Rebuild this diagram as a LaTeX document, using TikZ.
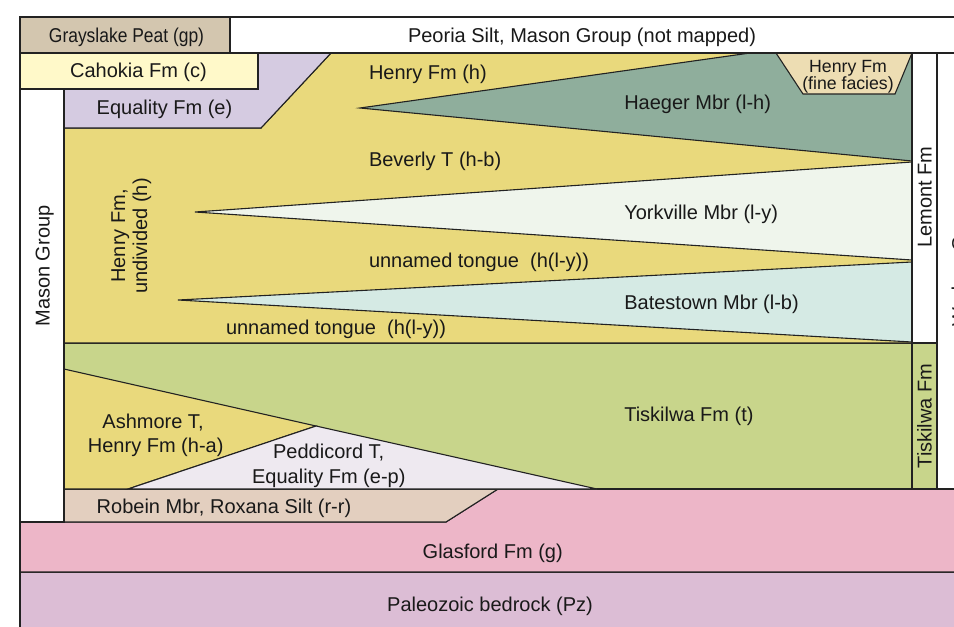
\documentclass[tikz,border=0pt]{standalone}
\usepackage{fontspec}
\setmainfont{Liberation Sans}
\newfontfamily\condfont[FakeStretch=0.872]{Liberation Sans}
\newcommand{\lblsize}{\fontsize{20}{24}\selectfont}
\newcommand{\smallsize}{\fontsize{17.7}{17}\selectfont}
\definecolor{linec}{HTML}{222222}
\definecolor{cGp}{HTML}{D3C6AF}
\definecolor{cCah}{HTML}{FFF9C9}
\definecolor{cEq}{HTML}{D5CBE1}
\definecolor{cHen}{HTML}{E9D97C}
\definecolor{cHae}{HTML}{8FAE9C}
\definecolor{cFine}{HTML}{EDDDB3}
\definecolor{cYork}{HTML}{EFF5EC}
\definecolor{cBat}{HTML}{D5EAE4}
\definecolor{cTis}{HTML}{C8D58B}
\definecolor{cPed}{HTML}{EEE9F0}
\definecolor{cRob}{HTML}{E3CFBF}
\definecolor{cGla}{HTML}{EDB6C8}
\definecolor{cPz}{HTML}{DCBDD5}
\begin{document}
\begin{tikzpicture}[x=1pt,y=-1pt,
  layer/.style={draw=linec, line width=1.1pt, line join=miter},
  lbl/.style={inner sep=0pt, outer sep=0pt, font=\lblsize, text=black!90},
  vlbl/.style={lbl, rotate=90, anchor=base}]
\useasboundingbox (0,0) rectangle (954,627);
\clip (0,0) rectangle (954,627);
\fill[white] (0,0) rectangle (954,627);
% bottom layers
\filldraw[layer, fill=cPz] (20,572) rectangle (980,660);
\filldraw[layer, fill=cGla] (20,522) -- (446,522) -- (498,489) -- (980,489) -- (980,572) -- (20,572) -- cycle;
\filldraw[layer, fill=cRob] (64,489) -- (498,489) -- (446,522) -- (64,522) -- cycle;
% Tiskilwa
\filldraw[layer, fill=cTis] (64,343) rectangle (912,489);
\filldraw[layer, fill=cHen] (64,369) -- (316,426) -- (128,489) -- (64,489) -- cycle;
\filldraw[layer, fill=cPed] (128,489) -- (316,426) -- (597,489) -- cycle;
% Henry
\filldraw[layer, fill=cHen] (64,128) -- (261,128) -- (331,53) -- (912,53) -- (912,343) -- (64,343) -- cycle;
\filldraw[layer, fill=cHae] (360,108) -- (750,53) -- (912,53) -- (912,161) -- cycle;
\filldraw[layer, fill=cFine] (776,53) -- (912,53) -- (895,94) -- (803,94) -- cycle;
\filldraw[layer, fill=cYork] (195,212) -- (912,162) -- (912,260) -- cycle;
\filldraw[layer, fill=cBat] (178,300) -- (912,262) -- (912,342) -- cycle;
% top left units
\filldraw[layer, fill=cEq] (258,53) -- (331,53) -- (261,128) -- (64,128) -- (64,89) -- (258,89) -- cycle;
\filldraw[layer, fill=cCah] (20,53) rectangle (258,89);
\filldraw[layer, fill=cGp] (20,17) rectangle (230,53);
\filldraw[layer, fill=white] (230,17) rectangle (980,53);
% columns
\filldraw[layer, fill=white] (20,89) rectangle (64,522);
\filldraw[layer, fill=white] (912,53) rectangle (937,343);
\filldraw[layer, fill=cTis] (912,343) rectangle (937,489);
\filldraw[layer, fill=white] (937,53) rectangle (980,489);
\draw[layer] (20,17) -- (20,660);
% labels
\node[lbl, anchor=base, font=\condfont\lblsize] (gp) at (126.5,42.7) {Grayslake Peat (gp)};
\node[lbl, anchor=base] (peoria) at (582,42.7) {Peoria Silt, Mason Group (not mapped)};
\node[lbl, anchor=base] (cah) at (138.5,77.7) {Cahokia Fm (c)};
\node[lbl, anchor=base] (eq) at (164.5,114.4) {Equality Fm (e)};
\node[lbl, anchor=base west] (henh) at (369,79.4) {Henry Fm (h)};
\node[lbl, anchor=base west] (hae) at (624.3,109.4) {Haeger Mbr (l-h)};
\node[lbl, anchor=base, font=\smallsize] (fine1) at (848,72) {Henry Fm};
\node[lbl, anchor=base, font=\smallsize] (fine2) at (848,89) {(fine facies)};
\node[lbl, anchor=base west] (bev) at (369,166) {Beverly T (h-b)};
\node[lbl, anchor=base west] (york) at (624.3,219.5) {Yorkville Mbr (l-y)};
\node[lbl, anchor=base west] (ut1) at (369,267.5) {unnamed tongue\ \ (h(l-y))};
\node[lbl, anchor=base west] (bat) at (624.3,309.5) {Batestown Mbr (l-b)};
\node[lbl, anchor=base west] (ut2) at (226,334.5) {unnamed tongue\ \ (h(l-y))};
\node[lbl, anchor=base west] (tis) at (624.3,421.7) {Tiskilwa Fm (t)};
\node[lbl, anchor=base] (ash1) at (153,428.7) {Ashmore T,};
\node[lbl, anchor=base] (ash2) at (155.7,452.7) {Henry Fm (h-a)};
\node[lbl, anchor=base] (ped1) at (328.7,458.4) {Peddicord T,};
\node[lbl, anchor=base] (ped2) at (328.8,483.7) {Equality Fm (e-p)};
\node[lbl, anchor=base west] (rob) at (96.7,513.7) {Robein Mbr, Roxana Silt (r-r)};
\node[lbl, anchor=base] (gla) at (492.7,558.4) {Glasford Fm (g)};
\node[lbl, anchor=base] (pz) at (490,611) {Paleozoic bedrock (Pz)};
% rotated labels
\node[vlbl] (mason) at (49.5,266) {Mason Group};
\node[vlbl] (hu1) at (125,236) {Henry Fm,};
\node[vlbl] (hu2) at (147,236) {undivided (h)};
\node[vlbl] (lemont) at (931.5,197) {Lemont Fm};
\node[vlbl] (tiscol) at (931.5,416) {Tiskilwa Fm};
\node[vlbl] (wedron) at (966,261.5) {Wedron Group};
\end{tikzpicture}
\end{document}
